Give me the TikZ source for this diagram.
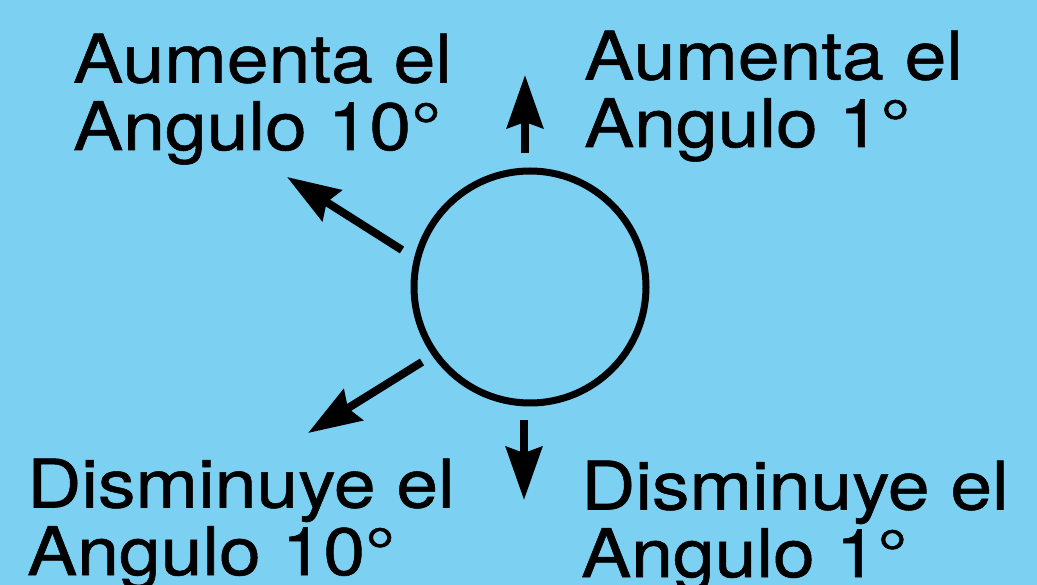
\documentclass[tikz,border=0pt]{standalone}
\usepackage{fontspec}
\setmainfont{TeX Gyre Heros}[FakeStretch=1.12,FakeBold=0.8]
\usetikzlibrary{arrows.meta}
\definecolor{bgblue}{HTML}{7CD0F2}
\tikzset{
  lbl/.style={anchor=base west, inner sep=0pt, align=left, font=\fontsize{67}{67.5}\selectfont},
  arr/.style={line width=8pt, -{Stealth[length=53pt,width=36pt,inset=6pt]}},
  ring/.style={circle, draw, line width=7pt, minimum size=232pt, inner sep=0pt}
}
\begin{document}
\begin{tikzpicture}[x=1pt,y=-1pt]
\fill[bgblue] (0,0) rectangle (1037,585);
\useasboundingbox (0,0) rectangle (1037,585);
\node[ring] (c) at (530,287) {};
\node[lbl] (ul) at (73,150) {Aumenta el\\Angulo 10°};
\node[lbl] (ur) at (584,147) {Aumenta el\\Angulo 1°};
\node[lbl] (bl) at (27,575) {Disminuye el\\Angulo 10°};
\node[lbl] (br) at (581,577) {Disminuye el\\Angulo 1°};
\coordinate (t1) at (525,153);
\coordinate (h1) at (525,75);
\coordinate (t2) at (402,250);
\coordinate (h2) at (287,177);
\coordinate (t3) at (422,362);
\coordinate (h3) at (308,433);
\coordinate (t4) at (524,420);
\coordinate (h4) at (524,500);
\draw[arr] (t1) -- (h1);
\draw[arr] (t2) -- (h2);
\draw[arr] (t3) -- (h3);
\draw[arr] (t4) -- (h4);
\end{tikzpicture}
\end{document}
